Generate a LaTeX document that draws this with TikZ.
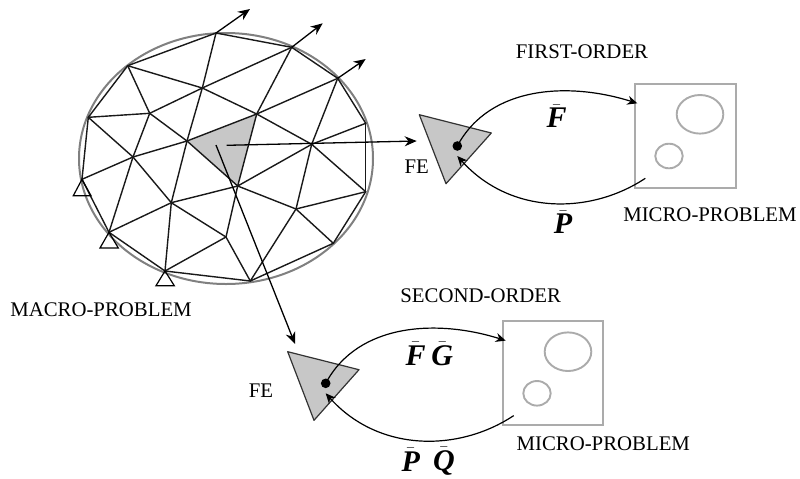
\documentclass[tikz,border=0pt]{standalone}
\usepackage{fontspec}
\setmainfont{Liberation Serif}
\usetikzlibrary{arrows.meta,calc}
\newcommand\barsym[1]{$\bar{\hbox{\fontsize{15}{16}\selectfont\bfseries\itshape #1}}$}
\tikzset{
  mesh/.style={line width=0.7pt,black!90,line cap=round},
  boundary/.style={line width=1pt,black!50},
  elem/.style={fill=black!22,draw=black!80,line width=0.6pt,line join=round},
  support/.style={draw=black,line width=0.6pt,fill=none},
  arrowline/.style={line width=0.65pt,-{Stealth[length=6pt,width=5pt]}},
  flow/.style={line width=0.6pt,-{Stealth[length=5pt,width=4.5pt]}},
  microbox/.style={draw=black!33,line width=0.95pt,fill=none},
  inclusion/.style={draw=black!33,line width=0.95pt},
  dotmark/.style={circle,fill=black,inner sep=0pt,minimum size=4.8pt},
  lbl/.style={anchor=base,inner sep=0pt,font=\fontsize{10.4}{12}\selectfont},
  sym/.style={anchor=base,inner sep=0pt}
}
\begin{document}
\begin{tikzpicture}[x=0.5pt,y=-0.5pt]
\useasboundingbox (0,0) rectangle (800,478);
% mesh vertices
\coordinate (vA) at (216,33);
\coordinate (vB) at (291.7,47.3);
\coordinate (vC) at (337.7,78.3);
\coordinate (vD) at (365.7,123.3);
\coordinate (vE) at (365.7,191.7);
\coordinate (vF) at (333.3,243.3);
\coordinate (vG) at (250.3,281);
\coordinate (vH) at (165,271);
\coordinate (vI) at (109,232.3);
\coordinate (vJ) at (82,179.3);
\coordinate (vK) at (88.3,117.3);
\coordinate (vL) at (127.7,65.7);
\coordinate (vM) at (202.3,88);
\coordinate (vN) at (256.7,114);
\coordinate (vO) at (149.7,113.3);
\coordinate (vP) at (187,141);
\coordinate (vQ) at (133,157);
\coordinate (vR) at (311.7,144.3);
\coordinate (vS) at (237.7,186);
\coordinate (vT) at (171.3,202.7);
\coordinate (vU) at (296,209);
\coordinate (vV) at (226,237);
% arrow ends
\coordinate (eA) at (250,9);
\coordinate (eB) at (322.7,23.3);
\coordinate (eC) at (365.7,59);
\coordinate (s1) at (226.7,145.3);
\coordinate (e1) at (416.7,141);
\coordinate (s2) at (216,145);
\coordinate (e2) at (295,344);
% boundary
\draw[boundary] (226,158.5) ellipse [x radius=147,y radius=125.5];
\fill[black!22] (vP)--(vN)--(vS)--cycle;
\foreach \a/\b in {vA/vB,vB/vC,vC/vD,vD/vE,vE/vF,vF/vG,vG/vH,vH/vI,vI/vJ,vJ/vK,vK/vL,vL/vA,
  vA/vM,vM/vP,vP/vT,vT/vH,vB/vM,vM/vO,vO/vK,vL/vM,vM/vN,vN/vR,vR/vE,
  vL/vO,vO/vP,vP/vS,vS/vU,vU/vF,vB/vN,vN/vS,vS/vV,vV/vG,vC/vN,vC/vR,vR/vU,vU/vG,
  vD/vR,vR/vS,vS/vT,vT/vI,vP/vN,vP/vQ,vQ/vJ,vK/vQ,vQ/vT,vT/vV,vV/vH,vU/vE,vO/vQ,vQ/vI}
  \draw[mesh] (\a)--(\b);
% supports
\draw[support] (vJ)--(73.3,195.7)--(91,195.7)--cycle;
\draw[support] (vI)--(100,248)--(118.3,248)--cycle;
\draw[support] (vH)--(156,285.7)--(174.3,285.7)--cycle;
% load arrows
\draw[arrowline] (vA)--(eA);
\draw[arrowline] (vB)--(eB);
\draw[arrowline] (vC)--(eC);
\draw[arrowline] (s1)--(e1);
\draw[arrowline] (s2)--(e2);
% first-order
\draw[elem] (419.3,114.7)--(491.3,133)--(446,183.7)--cycle;
\node[dotmark] (d1) at (457.3,146) {};
\coordinate (t1) at (637.3,103.3);
\coordinate (b1) at (645.3,178.3);
\coordinate (r1) at (457.3,156);
\draw[microbox] (634.7,83.7) rectangle (736,187.7);
\draw[inclusion] (700,114.3) ellipse [x radius=23.3,y radius=19.3];
\draw[inclusion] (669,156) ellipse [x radius=13.7,y radius=12.3];
\draw[flow] (d1.center) .. controls (490,85) and (570,82) .. (t1);
\draw[flow] (b1) .. controls (590,215) and (510,215) .. (r1);
% second-order
\draw[elem] (287.7,351.7)--(359,369.7)--(314,420.3)--cycle;
\node[dotmark] (d2) at (325.7,383.3) {};
\coordinate (t2) at (505.7,340.6);
\coordinate (b2) at (513.7,415.6);
\coordinate (r2) at (325.7,393.3);
\draw[microbox] (503,320.7) rectangle (603.3,424.7);
\draw[inclusion] (568,351.7) ellipse [x radius=23.3,y radius=19.3];
\draw[inclusion] (537,393.3) ellipse [x radius=13.7,y radius=12.3];
\draw[flow] (d2.center) .. controls (358.4,322.3) and (438.4,319.3) .. (t2);
\draw[flow] (b2) .. controls (458.4,452.3) and (378.4,452.3) .. (r2);
% labels
\node[lbl] (l1) at (582,58.3) {FIRST-ORDER};
\node[lbl] (l2) at (480.7,302.7) {SECOND-ORDER};
\node[lbl] (l3) at (710,221.7) {MICRO-PROBLEM};
\node[lbl] (l4) at (603.3,450) {MICRO-PROBLEM};
\node[lbl] (l5) at (101,316) {MACRO-PROBLEM};
\node[lbl] (l6) at (416.7,173.3) {FE};
\node[lbl] (l7) at (261,397.3) {FE};
\node[sym] (f1) at (556.7,127.3) {\barsym{F}};
\node[sym] (p1) at (563,233.3) {\barsym{P}};
\node[sym] (f2) at (415.7,365) {\barsym{F}};
\node[sym] (g2) at (442.3,365) {\barsym{G}};
\node[sym] (p2) at (410.7,471) {\barsym{P}};
\node[sym] (q2) at (444,470) {\barsym{Q}};
\end{tikzpicture}
\end{document}
